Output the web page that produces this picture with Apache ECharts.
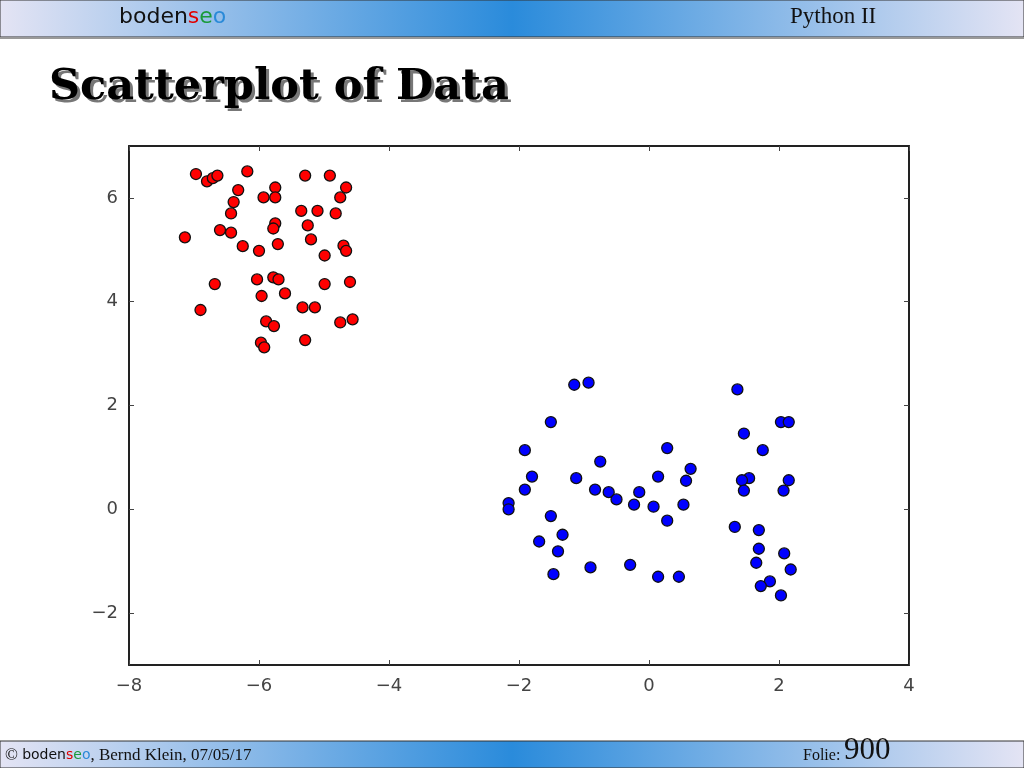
<!DOCTYPE html>
<html><head><meta charset="utf-8">
<script src="https://cdn.jsdelivr.net/npm/echarts@6/dist/echarts.min.js"></script>
<style>html,body{margin:0;padding:0;background:#fff}#c{width:1024px;height:768px}</style>
</head><body><div id="c"></div>
<script>
var redX = [-6.97,-6.80,-6.71,-6.64,-6.18,-5.29,-4.91,-4.66,-4.75,-6.32,-5.75,-5.93,-5.75,-6.39,-6.43,-5.35,-5.10,-4.82,-5.75,-5.78,-5.25,-7.14,-6.60,-6.43,-5.20,-6.25,-6.00,-5.71,-4.99,-4.70,-4.66,-6.68,-6.03,-5.78,-5.70,-4.99,-4.60,-5.96,-5.60,-6.90,-5.33,-5.14,-5.89,-5.77,-4.75,-4.56,-5.29,-5.97,-5.92];
var redY = [6.46,6.32,6.38,6.43,6.51,6.43,6.43,6.20,6.01,6.15,6.20,6.01,6.01,5.92,5.70,5.75,5.75,5.70,5.51,5.41,5.47,5.24,5.38,5.33,5.20,5.07,4.98,5.11,4.89,5.08,4.98,4.34,4.43,4.47,4.43,4.34,4.38,4.11,4.16,3.84,3.89,3.89,3.62,3.53,3.60,3.66,3.26,3.21,3.12];
var blueX = [-1.15,-0.93,-1.51,-1.91,0.28,-0.75,0.64,-1.80,-1.12,0.14,0.57,-1.91,-0.83,-0.62,-0.50,-0.15,-0.23,0.07,0.53,-2.16,-2.16,-1.51,0.28,-1.33,-1.69,-1.40,-1.47,-0.90,-0.29,0.14,0.46,
             1.36,2.03,2.15,1.46,1.75,1.54,1.43,1.46,2.15,2.07,1.32,1.69,1.69,2.08,1.65,2.18,1.86,1.72,2.03];
var blueY = [2.40,2.44,1.68,1.14,1.18,0.92,0.78,0.63,0.60,0.63,0.55,0.38,0.38,0.33,0.19,0.33,0.09,0.05,0.09,0.12,0.00,-0.13,-0.22,-0.49,-0.62,-0.81,-1.25,-1.12,-1.07,-1.30,-1.30,
             2.31,1.68,1.68,1.46,1.14,0.60,0.56,0.36,0.56,0.36,-0.34,-0.40,-0.76,-0.85,-1.03,-1.16,-1.39,-1.48,-1.66];
var xTicks = [-8,-6,-4,-2,0,2,4];
var yTicks = [-2,0,2,4,6];
var slideTitle = "Scatterplot of Data";
var headerRight = "Python II";
var footerLeft = ", Bernd Klein, 07/05/17";
var slideNo = "900";

function pairs(xs, ys){ return xs.map(function(x,i){return [x, ys[i]];}); }
function fmt(v){ return String(v).replace('-', '\u2212'); }

var barGrad = {type:'linear',x:0,y:0,x2:1,y2:0,colorStops:[
  {offset:0,color:'#e4e4f4'},{offset:0.5,color:'#2a8bdb'},{offset:1,color:'#e4e4f4'}]};
function logoRich(sz){
  return {
    k:{fill:'#111', fontFamily:'DejaVu Sans', fontSize:sz},
    r:{fill:'#e00000', fontFamily:'DejaVu Sans', fontSize:sz},
    g:{fill:'#1a9a3a', fontFamily:'DejaVu Sans', fontSize:sz},
    b:{fill:'#2a8ad8', fontFamily:'DejaVu Sans', fontSize:sz}};
}

var chart = echarts.init(document.getElementById('c'), null, {renderer:'canvas'});
var axisCommon = {
  min:-8, max:4, interval:2,
  axisLine:{show:true, onZero:false, lineStyle:{color:'#222', width:2}},
  axisTick:{show:true, inside:true, length:5, lineStyle:{color:'#444', width:1}},
  splitLine:{show:false}
};
chart.setOption({
  animation:false,
  grid:{left:129, right:115, top:146, bottom:103, containLabel:false},
  xAxis:[
    Object.assign({}, axisCommon, {type:'value', position:'bottom',
      axisLabel:{show:true, color:'#444', fontFamily:'DejaVu Sans', fontSize:18, margin:12, formatter:fmt}}),
    Object.assign({}, axisCommon, {type:'value', position:'top', axisLabel:{show:false}})
  ],
  yAxis:[
    Object.assign({}, axisCommon, {type:'value', min:-3, max:7, interval:1, position:'left',
      axisLabel:{show:true, color:'#444', fontFamily:'DejaVu Sans', fontSize:18, margin:11,
        formatter:function(v){ return yTicks.indexOf(v)>=0 ? fmt(v) : ''; }},
      axisTick:{show:true, inside:true, length:5, lineStyle:{color:'#444'}, customValues: yTicks}}),
    Object.assign({}, axisCommon, {type:'value', min:-3, max:7, interval:1, position:'right',
      axisLabel:{show:false},
      axisTick:{show:true, inside:true, length:5, lineStyle:{color:'#444'}, customValues: yTicks}})
  ],
  series:[
    {type:'scatter', data:pairs(redX, redY), symbolSize:11,
     itemStyle:{color:'#ff0000', borderColor:'#111', borderWidth:1.3, opacity:1}},
    {type:'scatter', data:pairs(blueX, blueY), symbolSize:11,
     itemStyle:{color:'#0000ff', borderColor:'#111', borderWidth:1.3, opacity:1}}
  ],
  graphic:[
    {type:'rect', shape:{x:0,y:0,width:1024,height:37}, style:{fill:barGrad, stroke:'#333', lineWidth:1}},
    {type:'rect', shape:{x:0,y:37,width:1024,height:2}, style:{fill:'#999'}},
    {type:'text', x:119, y:6, style:{text:'{k|boden}{r|s}{g|e}{b|o}', rich:logoRich(22)}},
    {type:'text', x:790, y:5, style:{text:headerRight, fill:'#111', fontFamily:'Liberation Serif', fontSize:23}},
    {type:'text', x:52, y:69, style:{text:slideTitle, fill:'#777', fontFamily:'DejaVu Serif', fontWeight:'bold', fontSize:43}},
    {type:'text', x:49, y:66, style:{text:slideTitle, fill:'#000', fontFamily:'DejaVu Serif', fontWeight:'bold', fontSize:43}},
    {type:'rect', shape:{x:0,y:741,width:1024,height:27}, style:{fill:barGrad, stroke:'#333', lineWidth:1}},
    {type:'text', x:5, y:747, style:{text:'\u00a9 {k|boden}{r|s}{g|e}{b|o}' + footerLeft, fill:'#111', fontFamily:'Liberation Serif', fontSize:17, rich:logoRich(14)}},
    {type:'text', x:803, y:748, style:{text:'Folie:', fill:'#111', fontFamily:'Liberation Serif', fontSize:16}},
    {type:'text', x:844, y:735, style:{text:slideNo, fill:'#111', fontFamily:'Liberation Serif', fontSize:31}}
  ]
});
</script></body></html>
